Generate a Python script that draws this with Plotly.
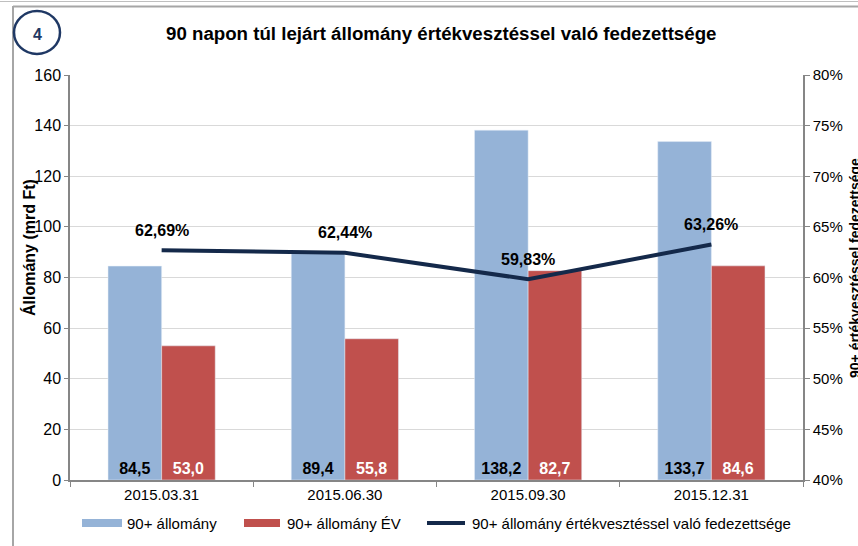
import plotly.graph_objects as go

categories = ["2015.03.31", "2015.06.30", "2015.09.30", "2015.12.31"]
allomany = [84.5, 89.4, 138.2, 133.7]
allomany_ev = [53.0, 55.8, 82.7, 84.6]
fedezettseg = [62.69, 62.44, 59.83, 63.26]

title_text = "90 napon túl lejárt állomány értékvesztéssel való fedezettsége"
y1_title = "Állomány (mrd Ft)"
y2_title = "90+ értékvesztéssel fedezettsége"
names = ["90+ állomány", "90+ állomány ÉV", "90+ állomány értékvesztéssel való fedezettsége"]

BLUE, RED, NAVY = "#95B3D7", "#C0504D", "#14294A"

W, H = 858, 546
L, R, T, B = 70, 55, 75, 66
pw, ph = W - L - R, H - T - B


def px(x):
    return (x - L) / pw


def py(y):
    return (H - B - y) / ph


FONT = "Liberation Sans, Arial, sans-serif"

fig = go.Figure()
fig.add_trace(go.Bar(
    x=categories, y=allomany, name=names[0], marker_color=BLUE,
    texttemplate="<b>%{y:.1f}</b>", textposition="inside", insidetextanchor="start",
    textangle=0, textfont=dict(color="black", size=16, family=FONT),
))
fig.add_trace(go.Bar(
    x=categories, y=allomany_ev, name=names[1], marker_color=RED,
    texttemplate="<b>%{y:.1f}</b>", textposition="inside", insidetextanchor="start",
    textangle=0, textfont=dict(color="white", size=16, family=FONT),
))
fig.add_trace(go.Scatter(
    x=categories, y=fedezettseg, name=names[2], mode="lines", yaxis="y2",
    line=dict(color=NAVY, width=4),
))

annotations = []
for c, v in zip(categories, fedezettseg):
    annotations.append(dict(
        x=c, y=v, xref="x", yref="y2", yshift=20, showarrow=False,
        xanchor="center", yanchor="middle",
        text="<b>" + f"{v:.2f}".replace(".", ",") + "%</b>",
        font=dict(size=16, color="black", family=FONT),
    ))


def paper_text(x, y, text, size, color="black", angle=0, xanchor="center"):
    return dict(x=px(x), y=py(y), xref="paper", yref="paper", showarrow=False,
                xanchor=xanchor, yanchor="middle", textangle=angle, text=text,
                font=dict(size=size, color=color, family=FONT))


annotations += [
    paper_text(441, 33, "<b>" + title_text + "</b>", 18.7),
    paper_text(37, 34, "<b>4</b>", 16, color="#1F3864"),
    paper_text(29, 248, "<b>" + y1_title + "</b>", 16, angle=-90),
    paper_text(855, 268, "<b>" + y2_title + "</b>", 14, angle=-90),
]

# manual legend (swatches + texts)
leg_y = 523
legend_items = [
    (names[0], BLUE, "bar", 82, 122, 125),
    (names[1], RED, "bar", 244, 280, 285),
    (names[2], NAVY, "line", 427, 465, 470),
]

shapes = [
    dict(type="line", xref="paper", yref="paper", x0=px(0), x1=px(W), y0=py(1.5), y1=py(1.5),
         line=dict(color="#BFBFBF", width=1)),
    dict(type="line", xref="paper", yref="paper", x0=px(13), x1=px(W), y0=py(6.5), y1=py(6.5),
         line=dict(color="#A6A6A6", width=2)),
    dict(type="line", xref="paper", yref="paper", x0=px(13), x1=px(13), y0=py(6), y1=py(H),
         line=dict(color="#A6A6A6", width=2)),
    dict(type="circle", xref="paper", yref="paper", x0=px(14), x1=px(60), y0=py(11), y1=py(54),
         line=dict(color="#1F3864", width=2.5)),
]

for name, color, kind, s0, s1, tx in legend_items:
    if kind == "bar":
        shapes.append(dict(type="rect", xref="paper", yref="paper", x0=px(s0), x1=px(s1),
                           y0=py(leg_y - 4), y1=py(leg_y + 4), line=dict(width=0),
                           fillcolor=color))
    else:
        shapes.append(dict(type="line", xref="paper", yref="paper", x0=px(s0), x1=px(s1),
                           y0=py(leg_y), y1=py(leg_y), line=dict(color=color, width=4)))
    annotations.append(paper_text(tx, leg_y, name, 15, xanchor="left"))

fig.update_layout(
    width=W, height=H, margin=dict(l=L, r=R, t=T, b=B),
    paper_bgcolor="white", plot_bgcolor="white",
    separators=", ",
    barmode="group", bargap=0.415, bargroupgap=0,
    font=dict(family=FONT, size=15, color="black"),
    showlegend=False,
    xaxis=dict(type="category", showgrid=False, showline=True, linecolor="#868686", linewidth=1.5,
               ticks="outside", tickson="boundaries", ticklen=5, tickcolor="#868686",
               tickfont=dict(size=15, family=FONT), automargin=False),
    yaxis=dict(range=[0, 160], dtick=20, showgrid=True, gridcolor="#D9D9D9", gridwidth=1,
               showline=True, linecolor="#868686", linewidth=1.5, ticks="outside", ticklen=4,
               tickcolor="#868686", tickfont=dict(size=16, family=FONT), zeroline=False,
               automargin=False),
    yaxis2=dict(range=[40, 80], dtick=5, overlaying="y", side="right", showgrid=False,
                showline=True, linecolor="#868686", linewidth=1.5, ticks="outside", ticklen=5,
                tickcolor="#868686", ticksuffix="%", tickfont=dict(size=15, family=FONT),
                zeroline=False, automargin=False),
    annotations=annotations, shapes=shapes,
)

fig.write_html("out.html", config={"displayModeBar": False},
               post_script="document.body.style.margin='0px';")
